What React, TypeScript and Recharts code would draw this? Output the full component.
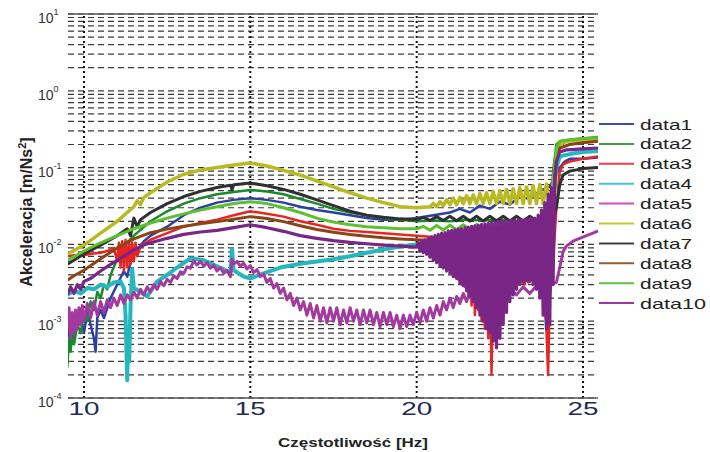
import React from 'react';
import { LineChart, Line, XAxis, YAxis, CartesianGrid, ReferenceLine, Legend } from 'recharts';

const FONT = '"Liberation Sans", Arial, Helvetica, sans-serif';

const xTicks = [10, 15, 20, 25];
const xTickLabels = ['10', '15', '20', '25'];
const yMajorTicks = [0.0001, 0.001, 0.01, 0.1, 1, 10];
const yMajorExponents = ['-4', '-3', '-2', '-1', '0', '1'];
const yGridTicks = [
  0.0001, 0.0002, 0.0003, 0.0004, 0.0005, 0.0006, 0.0007, 0.0008, 0.0009,
  0.001, 0.002, 0.003, 0.004, 0.005, 0.006, 0.007, 0.008, 0.009,
  0.01, 0.02, 0.03, 0.04, 0.05, 0.06, 0.07, 0.08, 0.09,
  0.1, 0.2, 0.3, 0.4, 0.5, 0.6, 0.7, 0.8, 0.9,
  1, 2, 3, 4, 5, 6, 7, 8, 9, 10,
];

const seriesNames = ['data1', 'data2', 'data3', 'data4', 'data5', 'data6', 'data7', 'data8', 'data9', 'data10'];
const seriesColors = ['#2c3fa3', '#178a2c', '#e82424', '#25b6be', '#a33a9f', '#b9b922', '#303030', '#8a4516', '#5cc030', '#7a2686'];
const legendColors = ['#3a4fb0', '#3aa040', '#f04040', '#40c8d0', '#d050c0', '#c8c830', '#404040', '#9a5a2a', '#60c040', '#9a3aa0'];

type P = [number, number];

const data1: P[] = [[9.5,0.0009],[9.55,0.0005],[9.6,0.0011],[9.65,0.0007],[9.7,0.0012],[9.8,0.0008],[9.9,0.0011],[10.0,0.0007],[10.1,0.0013],[10.2,0.0009],[10.3,0.0006],[10.35,0.0004],[10.4,0.0011],[10.5,0.0014],[10.6,0.0011],[10.8,0.002],[11.0,0.003],[11.2,0.0045],[11.3,0.0038],[11.4,0.006],[11.6,0.0085],[11.8,0.011],[12.0,0.013],[12.5,0.017],[13.0,0.024],[13.5,0.03],[14.0,0.035],[14.5,0.038],[15.0,0.04],[15.5,0.038],[16.0,0.035],[16.5,0.031],[17.0,0.028],[17.5,0.026],[18.0,0.024],[18.5,0.022],[19.0,0.021],[19.5,0.021],[20.0,0.022],[20.5,0.024],[21.0,0.026],[21.3,0.029],[21.6,0.026],[21.9,0.032],[22.2,0.029],[22.5,0.036],[22.8,0.033],[23.1,0.042],[23.4,0.039],[23.7,0.05],[24.0,0.056],[24.15,0.075],[24.3,0.1],[24.45,0.12],[24.6,0.13],[25.0,0.13],[25.45,0.135]];

const data2: P[] = [[9.5,0.00025],[9.55,0.0006],[9.6,0.0004],[9.65,0.0008],[9.7,0.0005],[9.8,0.0009],[9.9,0.0007],[10.0,0.0013],[10.1,0.001],[10.2,0.0018],[10.3,0.0014],[10.4,0.0024],[10.5,0.002],[10.6,0.003],[10.7,0.0026],[10.8,0.004],[11.0,0.0065],[11.2,0.0095],[11.5,0.013],[12.0,0.02],[12.5,0.027],[13.0,0.034],[13.5,0.04],[14.0,0.045],[14.5,0.048],[15.0,0.051],[15.5,0.049],[16.0,0.045],[16.5,0.039],[17.0,0.034],[17.5,0.029],[18.0,0.026],[18.5,0.024],[19.0,0.022],[19.5,0.021],[20.0,0.02],[20.5,0.0205],[21.0,0.02],[21.5,0.021],[22.0,0.0205],[22.5,0.021],[23.0,0.02],[23.5,0.0205],[23.9,0.02],[24.0,0.012],[24.05,0.03],[24.1,0.09],[24.2,0.2],[24.3,0.22],[24.6,0.23],[25.0,0.24],[25.45,0.25]];

const data3: P[] = [[9.5,0.007],[9.7,0.0072],[9.9,0.0071],[10.1,0.0074],[10.3,0.0076],[10.5,0.0078],[10.7,0.0082],[10.9,0.009],[11.0,0.006],[11.05,0.0105],[11.1,0.005],[11.15,0.011],[11.2,0.0045],[11.25,0.0115],[11.3,0.005],[11.35,0.011],[11.4,0.0055],[11.45,0.0105],[11.5,0.006],[11.55,0.0105],[11.6,0.007],[11.7,0.0095],[11.8,0.0102],[12.0,0.0115],[12.5,0.014],[13.0,0.017],[13.5,0.019],[14.0,0.021],[14.5,0.024],[15.0,0.027],[15.5,0.025],[16.0,0.023],[16.5,0.02],[17.0,0.018],[17.5,0.016],[18.0,0.015],[18.5,0.0145],[19.0,0.014],[19.5,0.0135],[20.0,0.013],[20.5,0.0125],[20.6,0.012],[20.65,0.0085],[20.7,0.0115],[20.75,0.007],[20.8,0.011],[20.85,0.0055],[20.9,0.0105],[20.95,0.005],[21.0,0.01],[21.05,0.0042],[21.1,0.0095],[21.15,0.0038],[21.2,0.009],[21.25,0.0035],[21.3,0.0085],[21.35,0.003],[21.4,0.008],[21.45,0.0028],[21.5,0.0075],[21.55,0.0022],[21.6,0.007],[21.65,0.0016],[21.7,0.0065],[21.75,0.0012],[21.8,0.006],[21.85,0.0014],[21.9,0.0055],[21.95,0.001],[22.0,0.005],[22.05,0.0008],[22.1,0.0045],[22.15,0.0006],[22.2,0.004],[22.25,0.0002],[22.3,0.0035],[22.35,0.0025],[22.6,0.004],[23.0,0.004],[23.15,0.0035],[23.2,0.0055],[23.25,0.003],[23.3,0.006],[23.35,0.0032],[23.4,0.0062],[23.45,0.0035],[23.5,0.0065],[23.55,0.0033],[23.6,0.0062],[23.65,0.003],[23.7,0.0058],[23.75,0.0025],[23.8,0.005],[23.85,0.0015],[23.9,0.0008],[23.95,0.0002],[24.0,0.002],[24.1,0.006],[24.2,0.03],[24.3,0.09],[24.4,0.11],[24.6,0.12],[25.0,0.13],[25.45,0.14]];

const data4: P[] = [[9.5,0.0022],[9.7,0.0025],[9.9,0.0023],[10.1,0.0027],[10.3,0.0026],[10.5,0.003],[10.7,0.0028],[10.9,0.0032],[11.1,0.0033],[11.2,0.0027],[11.25,0.0012],[11.3,0.00017],[11.33,0.0007],[11.36,0.0003],[11.4,0.0016],[11.45,0.0048],[11.5,0.0027],[11.7,0.0024],[11.9,0.0021],[12.2,0.0033],[12.5,0.004],[12.8,0.005],[13.2,0.0066],[13.6,0.0062],[14.0,0.0052],[14.3,0.0045],[14.4,0.0041],[14.45,0.0088],[14.5,0.0046],[14.8,0.0038],[15.0,0.0036],[15.4,0.0042],[15.9,0.005],[16.5,0.0056],[17.0,0.006],[17.5,0.0064],[18.0,0.007],[18.5,0.0078],[19.0,0.0086],[19.5,0.0094],[20.0,0.01],[20.5,0.011],[21.0,0.0118],[21.5,0.0125],[22.0,0.0135],[22.5,0.0145],[23.0,0.0155],[23.5,0.0165],[24.0,0.018],[24.1,0.03],[24.2,0.1],[24.3,0.14],[24.6,0.15],[25.0,0.16],[25.45,0.165]];

const data5: P[] = [[9.5,0.0008],[9.55,0.0015],[9.6,0.0006],[9.65,0.0013],[9.7,0.0007],[9.75,0.0014],[9.8,0.0008],[9.85,0.0015],[9.9,0.0009],[9.95,0.0016],[10.0,0.001],[10.1,0.0017],[10.2,0.0011],[10.3,0.0018],[10.4,0.0012],[10.5,0.0018],[10.6,0.0013],[10.7,0.0019],[10.8,0.0015],[10.9,0.002],[11.0,0.0016],[11.1,0.0022],[11.2,0.0017],[11.3,0.0022],[11.4,0.0019],[11.5,0.0024],[11.6,0.002],[11.7,0.0026],[11.8,0.0022],[11.9,0.0028],[12.0,0.0024],[12.1,0.003],[12.2,0.0026],[12.3,0.0033],[12.4,0.0029],[12.5,0.0035],[12.6,0.0032],[12.7,0.0039],[12.8,0.0036],[12.9,0.0044],[13.0,0.0042],[13.1,0.0051],[13.2,0.0049],[13.3,0.0061],[13.4,0.0054],[13.5,0.006],[13.6,0.0052],[13.7,0.0058],[13.8,0.0049],[13.9,0.0054],[14.0,0.0045],[14.1,0.005],[14.2,0.0042],[14.3,0.0046],[14.4,0.0038],[14.45,0.0064],[14.5,0.0056],[14.6,0.006],[14.7,0.0052],[14.8,0.0057],[14.9,0.0048],[15.0,0.0053],[15.1,0.0043],[15.2,0.0047],[15.3,0.0038],[15.4,0.0041],[15.5,0.0032],[15.6,0.0036],[15.7,0.0027],[15.8,0.0031],[15.9,0.0023],[16.0,0.0027],[16.1,0.0019],[16.2,0.0023],[16.3,0.0016],[16.4,0.002],[16.5,0.0014],[16.6,0.0018],[16.7,0.0012],[16.8,0.0017],[16.9,0.0011],[17.0,0.0016],[17.1,0.001],[17.2,0.0015],[17.3,0.00095],[17.4,0.0015],[17.5,0.001],[17.6,0.0015],[17.7,0.0009],[17.8,0.0014],[17.9,0.00095],[18.0,0.0015],[18.1,0.001],[18.2,0.0014],[18.3,0.0009],[18.4,0.0014],[18.5,0.00095],[18.6,0.0014],[18.7,0.0009],[18.8,0.0013],[18.9,0.00085],[19.0,0.0013],[19.1,0.0009],[19.2,0.0013],[19.3,0.00085],[19.4,0.0012],[19.5,0.0008],[19.6,0.0012],[19.7,0.00085],[19.8,0.0012],[19.9,0.0009],[20.0,0.0013],[20.1,0.00095],[20.2,0.0014],[20.3,0.001],[20.4,0.0015],[20.5,0.0011],[20.6,0.0016],[20.7,0.0012],[20.8,0.0018],[20.9,0.0014],[21.0,0.002],[21.1,0.0015],[21.2,0.0021],[21.3,0.0017],[21.4,0.0023],[21.5,0.0018],[21.6,0.0024],[21.7,0.0019],[21.8,0.0025],[21.9,0.002],[22.0,0.0026],[22.2,0.0021],[22.4,0.0027],[22.6,0.0022],[22.8,0.0027],[23.0,0.0022],[23.2,0.0028],[23.4,0.0023],[23.6,0.0029],[23.8,0.0025],[24.0,0.003],[24.2,0.0032],[24.3,0.005],[24.4,0.008],[24.5,0.0095],[24.7,0.011],[24.9,0.012],[25.1,0.013],[25.3,0.014],[25.45,0.015]];

const data6: P[] = [[9.5,0.0075],[10.0,0.0098],[10.5,0.014],[11.0,0.02],[11.3,0.026],[11.5,0.031],[11.6,0.037],[11.7,0.033],[11.8,0.041],[12.0,0.047],[12.5,0.065],[13.0,0.082],[13.5,0.093],[14.0,0.1],[14.5,0.108],[15.0,0.115],[15.5,0.105],[16.0,0.092],[16.5,0.08],[17.0,0.067],[17.5,0.056],[18.0,0.047],[18.5,0.04],[19.0,0.035],[19.5,0.031],[20.0,0.03],[20.4,0.031],[20.5,0.034],[20.6,0.031],[20.7,0.036],[20.8,0.032],[20.9,0.038],[21.0,0.033],[21.1,0.04],[21.2,0.033],[21.3,0.041],[21.4,0.034],[21.5,0.043],[21.6,0.034],[21.7,0.044],[21.8,0.034],[21.9,0.046],[22.0,0.034],[22.1,0.047],[22.2,0.034],[22.3,0.049],[22.4,0.034],[22.5,0.05],[22.6,0.034],[22.7,0.052],[22.8,0.034],[22.9,0.053],[23.0,0.034],[23.1,0.055],[23.2,0.034],[23.3,0.056],[23.4,0.034],[23.5,0.058],[23.6,0.034],[23.7,0.06],[23.8,0.034],[23.9,0.061],[24.0,0.035],[24.1,0.062],[24.2,0.15],[24.3,0.2],[24.5,0.22],[25.0,0.23],[25.45,0.235]];

const data7: P[] = [[9.5,0.0055],[10.0,0.0075],[10.5,0.0098],[11.0,0.013],[11.3,0.016],[11.4,0.013],[11.5,0.022],[11.6,0.017],[11.7,0.021],[12.0,0.026],[12.5,0.034],[13.0,0.042],[13.5,0.049],[14.0,0.055],[14.4,0.059],[14.45,0.052],[14.5,0.06],[15.0,0.063],[15.5,0.058],[16.0,0.052],[16.5,0.045],[17.0,0.038],[17.5,0.032],[18.0,0.027],[18.5,0.024],[19.0,0.0225],[19.5,0.0215],[20.0,0.021],[20.2,0.0225],[20.4,0.0205],[20.6,0.023],[20.8,0.0205],[21.0,0.0232],[21.2,0.0203],[21.4,0.0232],[21.6,0.0202],[21.8,0.0232],[22.0,0.0202],[22.2,0.0232],[22.4,0.0202],[22.6,0.0232],[22.8,0.0202],[23.0,0.0232],[23.2,0.0202],[23.4,0.0232],[23.6,0.0202],[23.8,0.0232],[24.0,0.0205],[24.1,0.022],[24.2,0.03],[24.3,0.06],[24.4,0.08],[24.6,0.09],[25.0,0.097],[25.45,0.1]];

const data8: P[] = [[9.5,0.0034],[9.7,0.0039],[10.0,0.0046],[10.5,0.0065],[11.0,0.009],[11.5,0.0118],[12.0,0.0142],[12.5,0.0158],[13.0,0.0172],[13.5,0.0185],[14.0,0.0198],[14.5,0.0212],[15.0,0.023],[15.5,0.0218],[16.0,0.0198],[16.5,0.0175],[17.0,0.0156],[17.5,0.0144],[18.0,0.0135],[18.5,0.0128],[19.0,0.0122],[19.5,0.0118],[20.0,0.0115],[20.5,0.0112],[21.0,0.011],[21.5,0.0112],[22.0,0.0115],[22.5,0.0117],[23.0,0.012],[23.5,0.0125],[24.0,0.013],[24.1,0.03],[24.2,0.12],[24.3,0.18],[24.6,0.2],[25.0,0.21],[25.45,0.22]];

const data9: P[] = [[9.5,0.0062],[10.0,0.0082],[10.5,0.0105],[11.0,0.013],[11.5,0.016],[12.0,0.019],[12.5,0.022],[13.0,0.025],[13.5,0.028],[14.0,0.031],[14.5,0.034],[15.0,0.036],[15.5,0.034],[16.0,0.03],[16.5,0.026],[17.0,0.022],[17.5,0.0195],[18.0,0.018],[18.5,0.017],[19.0,0.0165],[19.5,0.016],[20.0,0.016],[20.2,0.0172],[20.4,0.0153],[20.6,0.0176],[20.8,0.0154],[21.0,0.0178],[21.2,0.0155],[21.4,0.018],[21.6,0.0156],[21.8,0.0182],[22.0,0.0157],[22.2,0.0184],[22.4,0.0158],[22.6,0.0186],[22.8,0.0159],[23.0,0.0187],[23.2,0.016],[23.4,0.0188],[23.6,0.016],[23.8,0.0188],[24.0,0.0175],[24.1,0.05],[24.2,0.18],[24.3,0.22],[24.6,0.23],[25.0,0.24],[25.45,0.245]];

const data10: P[] = [[9.5,0.0022],[9.6,0.0028],[9.7,0.0023],[9.8,0.003],[9.9,0.0026],[10.0,0.0033],[10.2,0.0036],[10.5,0.0045],[10.8,0.0055],[11.0,0.0062],[11.2,0.007],[11.5,0.0085],[11.8,0.0098],[12.0,0.0105],[12.5,0.012],[13.0,0.0135],[13.5,0.0145],[14.0,0.0152],[14.5,0.0165],[15.0,0.018],[15.5,0.0165],[16.0,0.0148],[16.5,0.013],[17.0,0.012],[17.5,0.0112],[18.0,0.0106],[18.5,0.0102],[19.0,0.0098],[19.5,0.0095],[20.0,0.0092],[20.05,0.0105],[20.1,0.0082],[20.15,0.011],[20.2,0.0078],[20.25,0.0115],[20.3,0.0074],[20.35,0.012],[20.4,0.0068],[20.45,0.0125],[20.5,0.0062],[20.55,0.013],[20.6,0.0058],[20.65,0.0135],[20.7,0.0052],[20.75,0.014],[20.8,0.0049],[20.85,0.0142],[20.9,0.0045],[20.95,0.015],[21.0,0.0042],[21.05,0.0152],[21.1,0.0038],[21.15,0.0155],[21.2,0.0036],[21.25,0.0158],[21.3,0.0031],[21.35,0.016],[21.4,0.0029],[21.45,0.0165],[21.5,0.0025],[21.55,0.0168],[21.6,0.0021],[21.65,0.0172],[21.7,0.0018],[21.75,0.0175],[21.8,0.0015],[21.85,0.0178],[21.9,0.0012],[21.95,0.0182],[22.0,0.001],[22.05,0.0185],[22.1,0.0008],[22.15,0.0188],[22.2,0.0007],[22.25,0.019],[22.3,0.00055],[22.35,0.0195],[22.4,0.00045],[22.45,0.02],[22.5,0.0006],[22.55,0.02],[22.6,0.0009],[22.65,0.02],[22.7,0.0013],[22.75,0.0202],[22.8,0.0018],[22.85,0.0205],[22.9,0.0022],[22.95,0.0205],[23.0,0.0026],[23.05,0.021],[23.1,0.003],[23.15,0.021],[23.2,0.0032],[23.25,0.0212],[23.3,0.0034],[23.35,0.0215],[23.4,0.0033],[23.45,0.0218],[23.5,0.003],[23.55,0.022],[23.6,0.0026],[23.65,0.024],[23.7,0.002],[23.75,0.028],[23.8,0.0012],[23.85,0.035],[23.9,0.0008],[23.95,0.045],[24.0,0.0009],[24.05,0.055],[24.1,0.003],[24.15,0.08],[24.2,0.12],[24.3,0.16],[24.5,0.17],[25.0,0.175],[25.45,0.18]];

const allSeries = [data1, data2, data3, data4, data5, data6, data7, data8, data9, data10];
const seriesWidths = [2.5, 2.5, 2.5, 4, 3, 3.5, 3, 3, 3, 3.2];

const toPoints = (arr: P[]) => arr.map(([f, v]) => ({ f, v }));

const YTick = (props: any) => {
  const { x, y, payload } = props;
  const idx = yMajorTicks.findIndex((t) => Math.abs(Math.log10(t) - Math.log10(payload.value)) < 1e-6);
  if (idx < 0) return <g />;
  return (
    <text x={x - 30} y={y + 9} fontFamily={FONT} fontSize={14} fill="#333" textAnchor="start">
      <tspan>10</tspan>
      <tspan dy={-8} fontSize={9}>{yMajorExponents[idx]}</tspan>
    </text>
  );
};

const XTick = (props: any) => {
  const { x, y, payload } = props;
  const idx = xTicks.indexOf(payload.value);
  const label = idx >= 0 ? xTickLabels[idx] : String(payload.value);
  return (
    <text x={x} y={y + 17} fontFamily={FONT} fontSize={18} fill="#1d2b5a" textAnchor="middle"
      textLength={31} lengthAdjust="spacingAndGlyphs">
      {label}
    </text>
  );
};

const LegendBox = () => (
  <svg width={114} height={210}>
    {seriesNames.map((name, i) => {
      const cy = 12 + i * 19.9;
      return (
        <g key={name}>
          <line x1={3} x2={38} y1={cy} y2={cy} stroke={legendColors[i]} strokeWidth={2} />
          <text x={44} y={cy + 5.5} fontFamily={FONT} fontSize={15} fill="#222"
            textLength={name.length > 5 ? 66 : 52} lengthAdjust="spacingAndGlyphs">
            {name}
          </text>
        </g>
      );
    })}
  </svg>
);

export default function App() {
  return (
    <div style={{ position: 'absolute', left: 0, top: 0, width: 710, height: 452, background: '#fff' }}>
      <LineChart width={710} height={452} margin={{ top: 14, right: 112, left: 0, bottom: 0 }}>
        <CartesianGrid vertical={false} stroke="#3a3a3a" strokeDasharray="6 4" strokeWidth={1.2} />
        <XAxis
          type="number"
          dataKey="f"
          domain={[9.52, 25.45]}
          allowDataOverflow
          ticks={xTicks}
          tick={<XTick />}
          tickSize={0}
          tickMargin={0}
          height={54}
          axisLine={{ stroke: '#555', strokeWidth: 1.5 }}
          tickLine={false}
          label={{
            value: 'Częstotliwość [Hz]',
            position: 'insideBottom',
            content: () => (
              <text x={353} y={447} fontFamily={FONT} fontSize={13.5} fontWeight="bold" fill="#222" textAnchor="middle"
                textLength={150} lengthAdjust="spacingAndGlyphs">
                Częstotliwość [Hz]
              </text>
            ),
          }}
        />
        <YAxis
          type="number"
          scale="log"
          domain={[0.0001, 10]}
          allowDataOverflow
          ticks={yGridTicks}
          interval={0}
          tick={<YTick />}
          tickSize={0}
          tickMargin={0}
          width={68}
          axisLine={false}
          tickLine={false}
          label={{
            value: 'Akceleracja [m/Ns2]',
            position: 'insideLeft',
            content: () => (
              <text x={32} y={212} transform="rotate(-90, 32, 212)" fontFamily={FONT} fontSize={16}
                fontWeight="bold" fill="#222" textAnchor="middle">
                <tspan>Akceleracja [m/Ns</tspan>
                <tspan dy={-6} fontSize={11}>2</tspan>
                <tspan dy={6}>]</tspan>
              </text>
            ),
          }}
        />
        <ReferenceLine y={10} stroke="#555" strokeWidth={1.5} />
        {xTicks.map((t) => (
          <ReferenceLine key={t} x={t} stroke="#111" strokeDasharray="2 3" strokeWidth={2} />
        ))}
        {allSeries.map((s, i) => (
          <Line
            key={seriesNames[i]}
            data={toPoints(s)}
            dataKey="v"
            name={seriesNames[i]}
            type="linear"
            stroke={seriesColors[i]}
            strokeWidth={seriesWidths[i]}
            strokeLinejoin="round"
            dot={false}
            activeDot={false}
            isAnimationActive={false}
          />
        ))}
        <Legend
          layout="vertical"
          align="center"
          verticalAlign="middle"
          wrapperStyle={{ position: 'absolute', left: 596, top: 112, width: 114, height: 210 }}
          content={() => <LegendBox />}
        />
      </LineChart>
    </div>
  );
}
